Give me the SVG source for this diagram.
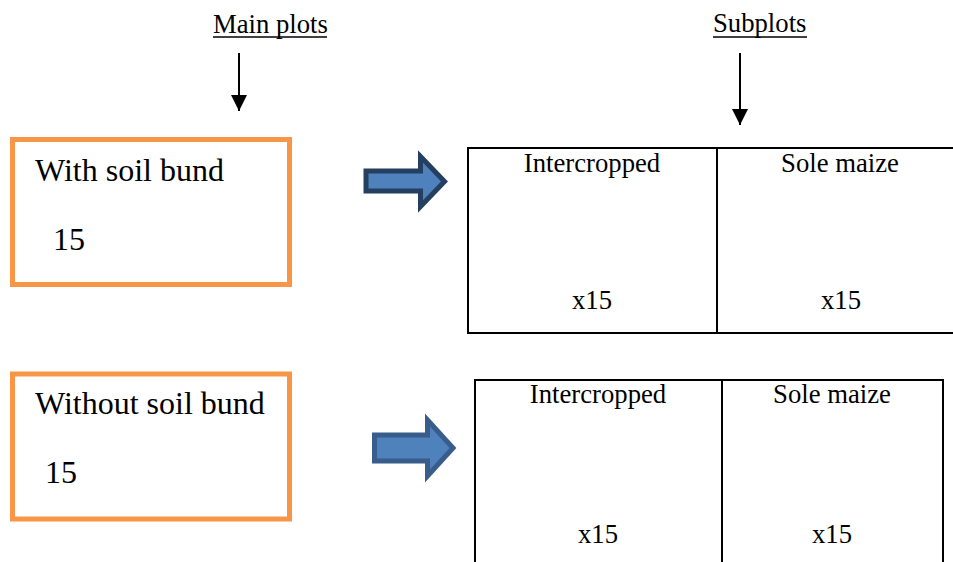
<svg xmlns="http://www.w3.org/2000/svg" width="953" height="562" viewBox="0 0 953 562">
<style>
text{font-family:"Liberation Serif","Times New Roman",serif;fill:#000}
.big{font-size:32px}
.sm{font-size:26.7px}
.mid{text-anchor:middle}
.main{fill:#fff;stroke:#F79646;stroke-width:5}
.sub{fill:none;stroke:#000;stroke-width:2}
.blk{fill:#4F81BD;stroke-width:5;stroke-linejoin:miter}
.ptr{stroke:#000;stroke-width:2;fill:none}
</style>
<defs>
<marker id="ah" markerWidth="8" markerHeight="8" refX="8" refY="4" orient="auto" markerUnits="strokeWidth">
<path d="M0,0 L8,4 L0,8 Z" fill="#000"/>
</marker>
</defs>
<rect width="953" height="562" fill="#fff"/>
<g id="label-main">
<text class="sm" x="213" y="33">Main plots</text>
<line x1="213" y1="37" x2="327" y2="37" stroke="#000" stroke-width="1.3"/>
</g>
<g id="label-sub">
<text class="sm" x="713" y="32">Subplots</text>
<line x1="713" y1="37" x2="807" y2="37" stroke="#000" stroke-width="1.3"/>
</g>
<g id="main-with">
<rect class="main" x="12.5" y="139.5" width="277" height="145"/>
<text class="big" x="35" y="181">With soil bund</text>
<text class="big" x="53" y="250">15</text>
</g>
<g id="main-without">
<rect class="main" x="12.5" y="374" width="277" height="145"/>
<text class="big" x="35" y="414">Without soil bund</text>
<text class="big" x="45" y="483">15</text>
</g>
<g id="sub-with">
<rect class="sub" x="468" y="148" width="500" height="185"/>
<line class="sub" x1="717" y1="148" x2="717" y2="333"/>
<text class="sm mid" x="592" y="172">Intercropped</text>
<text class="sm mid" x="840" y="172">Sole maize</text>
<text class="sm mid" x="592" y="309">x15</text>
<text class="sm mid" x="841" y="309">x15</text>
</g>
<g id="sub-without">
<rect class="sub" x="475" y="380" width="468" height="200"/>
<line class="sub" x1="722" y1="380" x2="722" y2="570"/>
<text class="sm mid" x="598" y="403">Intercropped</text>
<text class="sm mid" x="832" y="403">Sole maize</text>
<text class="sm mid" x="598" y="543">x15</text>
<text class="sm mid" x="832" y="543">x15</text>
</g>
<g id="connectors">
<line class="ptr" x1="239" y1="53" x2="239" y2="111" marker-end="url(#ah)"/>
<line class="ptr" x1="740" y1="53" x2="740" y2="125" marker-end="url(#ah)"/>
<path class="blk" stroke="#243F60" d="M366,171 H420.5 V156.5 L444.5,181.5 L420.5,206.5 V191 H366 Z"/>
<path class="blk" stroke="#385D8A" d="M374.5,435 H427.5 V420 L453,448 L427.5,476 V461 H374.5 Z"/>
</g>
</svg>
